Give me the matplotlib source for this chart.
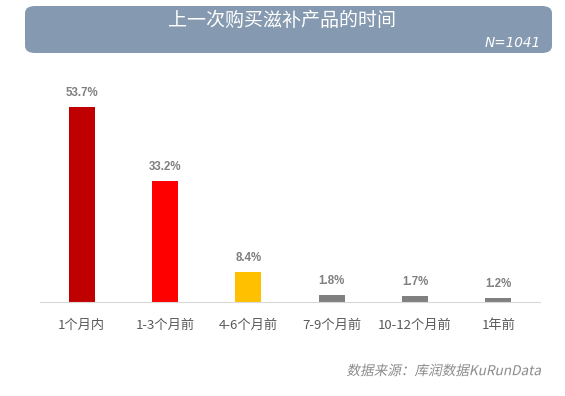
import matplotlib
matplotlib.use("Agg")
import matplotlib.pyplot as plt
from matplotlib.patches import FancyBboxPatch, PathPatch
from matplotlib.textpath import TextPath
from matplotlib.font_manager import FontProperties
from matplotlib.transforms import Affine2D, IdentityTransform

plt.rcParams['font.family'] = ['Noto Sans CJK SC', 'DejaVu Sans']

categories = ['1个月内', '1-3个月前', '4-6个月前', '7-9个月前', '10-12个月前', '1年前']
values = [53.7, 33.2, 8.4, 1.8, 1.7, 1.2]
labels = ['53.7%', '33.2%', '8.4%', '1.8%', '1.7%', '1.2%']
colors = ['#C00000', '#FF0000', '#FFC000', '#808080', '#808080', '#808080']
source = '数据来源：库润数据KuRunData'

W, H = 565, 396
fig = plt.figure(figsize=(W / 100, H / 100), dpi=100)

# header banner
banner = FancyBboxPatch((25 / W, 1 - 53 / H), 527 / W, 47 / H,
                        boxstyle="round,pad=0,rounding_size=0.018",
                        transform=fig.transFigure, facecolor='#8599B0',
                        edgecolor='none')
fig.patches.append(banner)
fig.text(282 / W, 1 - 20 / H, '上一次购买滋补产品的时间', color='white',
         fontsize=13.7, ha='center', va='center')
fig.text(541 / W, 1 - 43 / H, 'N=1041', color='white', fontsize=9.8,
         style='italic', ha='right', va='center', family=['DejaVu Sans'])

ax = fig.add_axes([40 / W, 94 / H, 500 / W, 232 / H])
x = range(len(categories))
ax.bar(x, values, width=0.31, color=colors)
for i, v in enumerate(values):
    ax.text(i, v + 2.2, labels[i], ha='center', va='bottom', fontsize=8.3,
            fontweight='bold', color='#7F7F7F', family=['Liberation Sans'])

ax.set_xlim(-0.5, 5.5)
ax.set_ylim(0, 63.9)
ax.set_xticks(list(x))
ax.set_xticklabels(categories, fontsize=9.5, color='#595959')
ax.tick_params(axis='x', length=0, pad=12)
ax.set_yticks([])
for s in ['top', 'left', 'right']:
    ax.spines[s].set_visible(False)
ax.spines['bottom'].set_color('#D9D9D9')

# source line, slanted by hand since the CJK font has no italic
tp = TextPath((0, 0), source, size=9.8, prop=FontProperties(family='Noto Sans CJK SC'))
ext = tp.get_extents()
sc = fig.dpi / 72
tr = (Affine2D().translate(-ext.x1, -ext.y0 - ext.height / 2).skew_deg(12, 0)
      .scale(sc).translate(541, H - 370))
fig.patches.append(PathPatch(tr.transform_path(tp), transform=IdentityTransform(),
                             facecolor='#8C8C8C', edgecolor='none'))

fig.savefig('out.png', dpi=100)
